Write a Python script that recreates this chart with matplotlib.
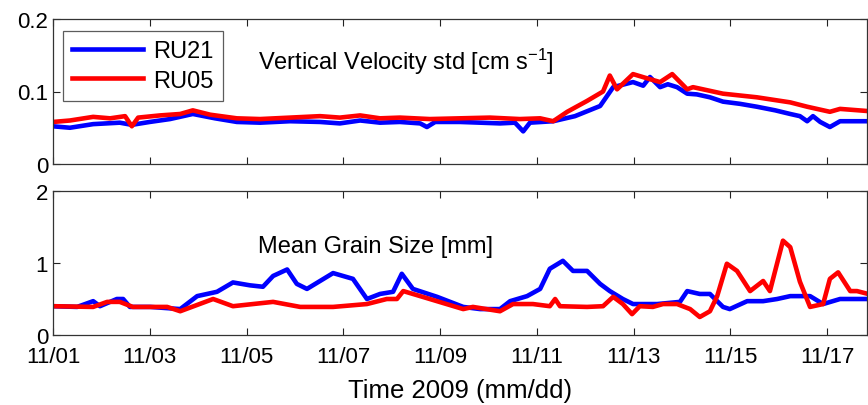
import matplotlib
matplotlib.use("Agg")
import matplotlib.pyplot as plt

plt.rcParams['font.family'] = ['Liberation Sans', 'DejaVu Sans']
plt.rcParams['mathtext.fontset'] = 'custom'
plt.rcParams['mathtext.rm'] = 'Liberation Sans'
plt.rcParams['mathtext.it'] = 'Liberation Sans'

# x in days since 2009-11-01
tick_days = [0, 2, 4, 6, 8, 10, 12, 14, 16]
tick_labels = ['11/01', '11/03', '11/05', '11/07', '11/09', '11/11', '11/13', '11/15', '11/17']

# Vertical velocity std [cm/s]
vel21_day = [0.00, 0.35, 0.83, 1.38, 1.63, 2.00, 2.42, 2.89, 3.35, 3.80, 4.28, 4.90, 5.52, 5.93,
             6.35, 6.76, 7.17, 7.59, 7.73, 7.90, 8.41, 8.83, 9.24, 9.55, 9.72, 9.86, 10.34, 10.79,
             11.31, 11.58, 11.99, 12.20, 12.34, 12.55, 12.71, 12.90, 13.11, 13.31, 13.58, 13.85,
             14.20, 14.55, 14.93, 15.24, 15.44, 15.59, 15.71, 15.86, 16.06, 16.27, 16.85]
vel21 = [0.052, 0.050, 0.055, 0.057, 0.054, 0.058, 0.062, 0.069, 0.063, 0.058, 0.057, 0.059, 0.058,
         0.056, 0.060, 0.057, 0.058, 0.056, 0.051, 0.058, 0.058, 0.057, 0.056, 0.057, 0.045, 0.057,
         0.059, 0.066, 0.080, 0.106, 0.113, 0.108, 0.120, 0.106, 0.110, 0.106, 0.097, 0.096, 0.092,
         0.086, 0.083, 0.079, 0.074, 0.069, 0.066, 0.059, 0.066, 0.058, 0.051, 0.059, 0.059]

vel05_day = [0.00, 0.35, 0.83, 1.18, 1.49, 1.63, 1.76, 2.21, 2.63, 2.89, 3.25, 3.80, 4.28, 4.90,
             5.52, 5.93, 6.35, 6.76, 7.17, 7.79, 8.41, 9.03, 9.65, 10.07, 10.34, 10.63, 11.04,
             11.37, 11.51, 11.66, 11.99, 12.34, 12.55, 12.80, 13.11, 13.23, 13.85, 14.55, 15.24,
             15.59, 16.06, 16.27, 16.85]
vel05 = [0.058, 0.060, 0.065, 0.063, 0.066, 0.052, 0.064, 0.067, 0.069, 0.074, 0.068, 0.063, 0.062,
         0.064, 0.066, 0.064, 0.067, 0.063, 0.064, 0.062, 0.063, 0.064, 0.062, 0.063, 0.059, 0.072,
         0.087, 0.100, 0.122, 0.103, 0.124, 0.117, 0.113, 0.124, 0.103, 0.106, 0.097, 0.092, 0.085,
         0.079, 0.072, 0.076, 0.073]

# Mean grain size [mm]
gs21_day = [0.00, 0.50, 0.83, 0.97, 1.32, 1.45, 1.59, 2.01, 2.63, 2.98, 3.39, 3.72, 4.07, 4.34,
            4.55, 4.84, 5.04, 5.25, 5.52, 5.79, 6.20, 6.49, 6.76, 7.03, 7.21, 7.44, 7.94, 8.48,
            8.83, 9.24, 9.45, 9.80, 10.07, 10.27, 10.54, 10.75, 11.04, 11.31, 11.51, 11.78, 11.99,
            12.49, 12.96, 13.11, 13.37, 13.58, 13.85, 13.99, 14.35, 14.68, 14.97, 15.24, 15.65,
            15.92, 16.27, 16.85]
gs21 = [0.40, 0.39, 0.47, 0.40, 0.50, 0.50, 0.39, 0.39, 0.36, 0.54, 0.60, 0.73, 0.69, 0.67,
        0.82, 0.91, 0.71, 0.64, 0.75, 0.86, 0.78, 0.50, 0.57, 0.60, 0.85, 0.64, 0.53, 0.39,
        0.36, 0.36, 0.47, 0.54, 0.64, 0.92, 1.03, 0.89, 0.89, 0.71, 0.61, 0.50, 0.43,
        0.43, 0.46, 0.61, 0.57, 0.57, 0.39, 0.36, 0.47, 0.47, 0.50, 0.54, 0.54,
        0.43, 0.50, 0.50]

gs05_day = [0.00, 0.83, 1.12, 1.38, 1.65, 2.36, 2.63, 3.31, 3.72, 4.55, 5.11, 5.79, 6.49, 6.90,
            7.11, 7.24, 7.59, 8.48, 8.68, 9.24, 9.51, 9.92, 10.27, 10.38, 10.48, 11.04, 11.37,
            11.58, 11.78, 11.97, 12.13, 12.40, 12.61, 12.90, 13.17, 13.37, 13.58, 13.73, 13.93,
            14.14, 14.41, 14.68, 14.82, 15.09, 15.24, 15.44, 15.65, 15.92, 16.06, 16.23, 16.48,
            16.62, 16.85]
gs05 = [0.40, 0.39, 0.46, 0.46, 0.39, 0.39, 0.33, 0.50, 0.40, 0.46, 0.39, 0.39, 0.43, 0.50,
        0.50, 0.61, 0.54, 0.36, 0.39, 0.33, 0.43, 0.43, 0.40, 0.50, 0.40, 0.39, 0.40,
        0.53, 0.43, 0.29, 0.40, 0.39, 0.43, 0.43, 0.36, 0.25, 0.33, 0.54, 0.99,
        0.89, 0.61, 0.75, 0.61, 1.31, 1.22, 0.74, 0.39, 0.43, 0.78, 0.87, 0.61,
        0.61, 0.57]

BLUE = (0, 0, 1)
RED = (1, 0, 0)
LW = 3.3
FS = 16

fig = plt.figure(figsize=(8.68, 4.06), dpi=100)
left = 53 / 868
width = (867 - 53) / 868
ax1 = fig.add_axes([left, 1 - 165 / 406, width, 145 / 406])
ax2 = fig.add_axes([left, 1 - 336 / 406, width, 144 / 406])

ax1.plot(vel21_day, vel21, color=BLUE, lw=LW, label='RU21')
ax1.plot(vel05_day, vel05, color=RED, lw=LW, label='RU05')
ax2.plot(gs21_day, gs21, color=BLUE, lw=LW)
ax2.plot(gs05_day, gs05, color=RED, lw=LW)

xmax = (867 - 53) / 48.375
for ax in (ax1, ax2):
    ax.set_xlim(0, xmax)
    ax.set_xticks(tick_days)
    ax.tick_params(direction='in', top=True, right=True, length=5, width=0.8,
                   labelsize=FS, colors='#222222', labelcolor='black')
    for s in ax.spines.values():
        s.set_linewidth(0.9)
        s.set_color('#333333')

ax1.set_ylim(0, 0.2)
ax1.set_yticks([0, 0.1, 0.2])
ax1.set_yticklabels(['0', '0.1', '0.2'])
ax1.set_xticklabels([])
ax2.set_ylim(0, 2)
ax2.set_yticks([0, 1, 2])
ax2.set_yticklabels(['0', '1', '2'])
ax2.set_xticklabels(tick_labels)
ax2.tick_params(axis='x', pad=8)
ax2.set_xlabel('Time 2009 (mm/dd)', fontsize=18.5, labelpad=8)

ax1.text((258 - 53) / 48.375, 0.142, 'Vertical Velocity std [cm s$^{-1}$]',
         fontsize=17, va='center', ha='left')
ax2.text((258 - 53) / 48.375, 1.24, 'Mean Grain Size [mm]',
         fontsize=17, va='center', ha='left')

leg = ax1.legend(loc='upper left', bbox_to_anchor=((63 - 53) / 814, (165 - 32) / 145),
                 fontsize=FS + 1, frameon=True, fancybox=False, handlelength=3.0,
                 handletextpad=0.4, borderpad=0.4, labelspacing=0.3, borderaxespad=0)
leg.get_frame().set_edgecolor('#333333')
leg.get_frame().set_linewidth(0.9)
for line in leg.get_lines():
    line.set_linewidth(LW)

fig.savefig('out.png', dpi=100)
